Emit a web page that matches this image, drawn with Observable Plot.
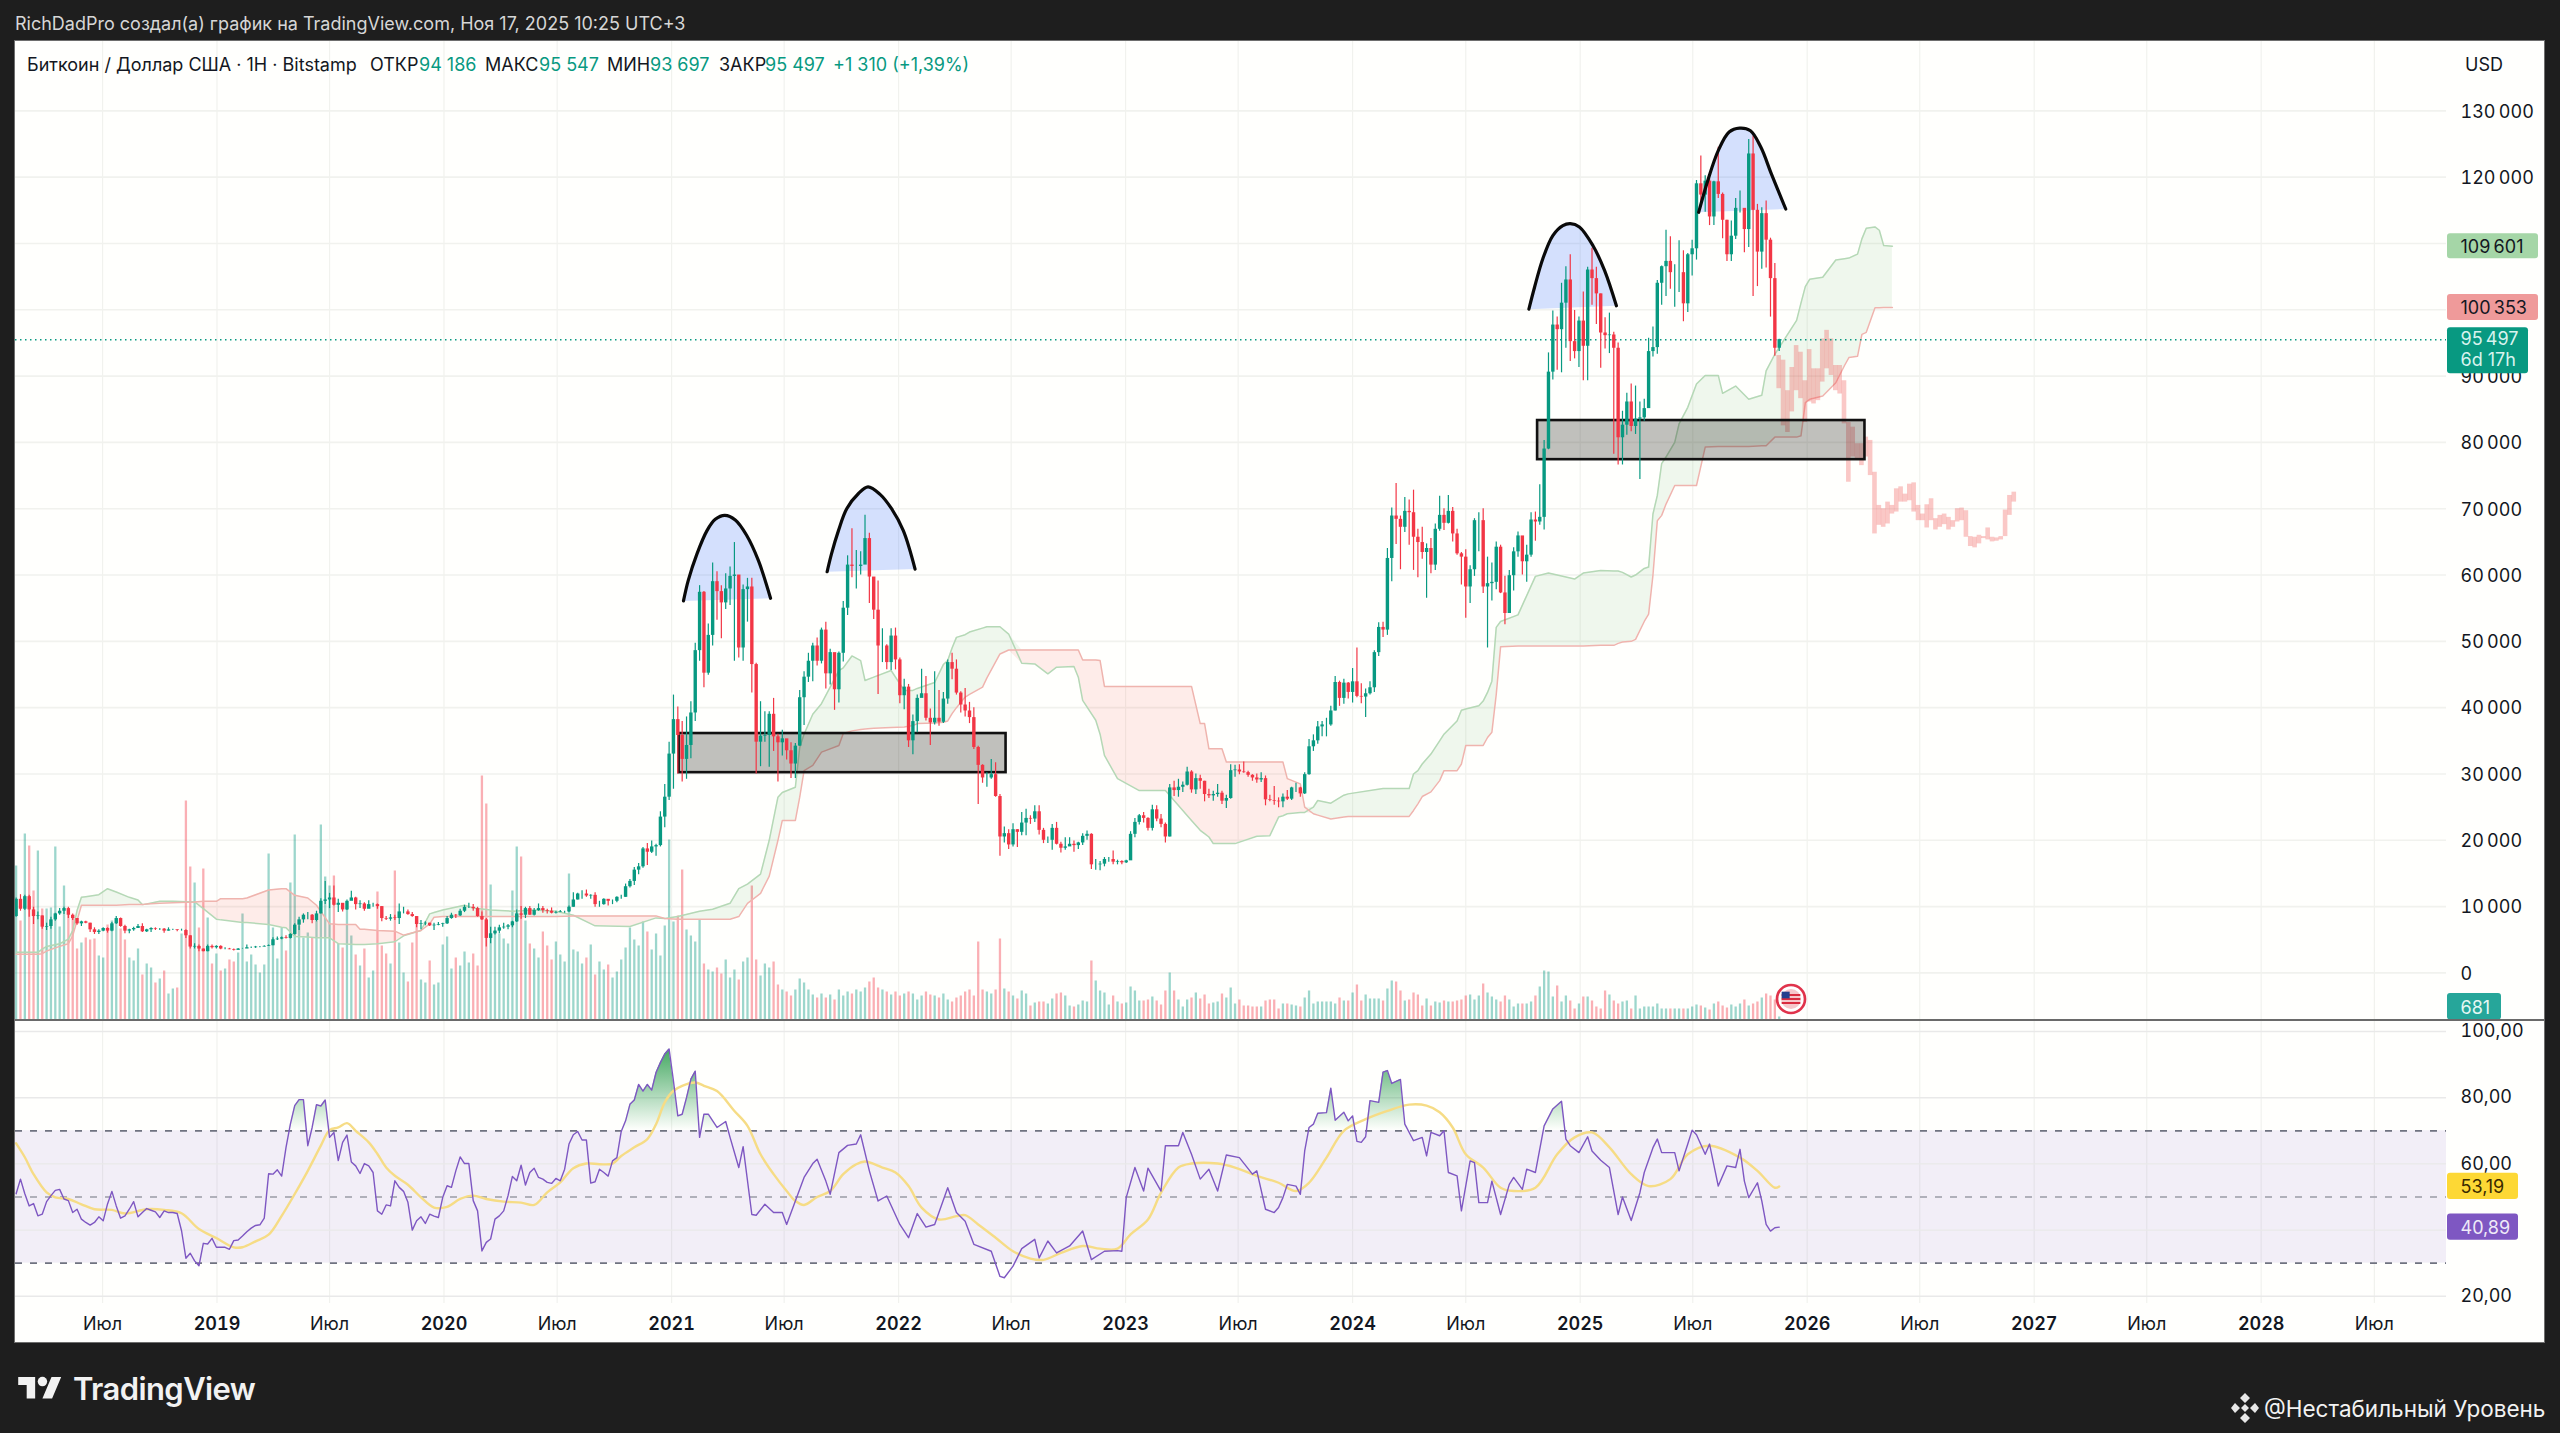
<!DOCTYPE html>
<html lang="ru"><head><meta charset="utf-8"><title>BTC/USD</title>
<script src="https://cdn.jsdelivr.net/npm/d3@7"></script>
<script src="https://cdn.jsdelivr.net/npm/@observablehq/plot@0.6"></script>
<style>
html,body{margin:0;padding:0;background:#1e1e1e;width:2560px;height:1433px;overflow:hidden;font-family:Inter,"Noto Sans",sans-serif}
#panel{position:absolute;left:15px;top:41px;width:2529px;height:1301px;background:#fffffd;box-shadow:0 0 0 1px #6e6e6e}
#panel svg{display:block}
#sep{position:absolute;left:0;top:978px;width:2529px;height:2px;background:#6a6a6a}
.t{position:absolute;white-space:nowrap;line-height:24px;font-size:18px}
.lg{top:12px;color:#131722}.v{top:12px;color:#089981}
</style></head><body>
<div class="t" style="left:15px;top:12px;color:#d6d6d6">RichDadPro создал(а) график на TradingView.com, Ноя 17, 2025 10:25 UTC+3</div>
<div id="panel"><div id="main"></div><div id="rsi"></div><div id="sep"></div>
<span class="t lg" style="left:12px">Биткоин / Доллар США · 1Н · Bitstamp</span>
<span class="t lg" style="left:355px">ОТКР</span><span class="t v" style="left:404px">94 186</span>
<span class="t lg" style="left:470px">МАКС</span><span class="t v" style="left:524px">95 547</span>
<span class="t lg" style="left:592px">МИН</span><span class="t v" style="left:635px">93 697</span>
<span class="t lg" style="left:704px">ЗАКР</span><span class="t v" style="left:750px">95 497</span>
<span class="t v" style="left:818px">+1 310 (+1,39%)</span>
<span class="t lg" style="left:2450px">USD</span>
<svg style="position:absolute;left:1760px;top:942px" width="32" height="32" viewBox="0 0 24 24"><circle cx="12" cy="12" r="10.5" fill="#fff" stroke="#e0334b" stroke-width="2"/><circle cx="12" cy="12" r="7.5" fill="#f6c6cb"/><path d="M5 9h14M5 12h14M5 15h14" stroke="#d92b3f" stroke-width="1.5"/><rect x="5" y="6.5" width="6" height="5" fill="#24408e"/></svg>
</div>
<svg style="position:absolute;left:18px;top:1376px" width="44" height="23" viewBox="0 0 36 19"><path fill="#f2f2f2" d="M14 18.5H7V7.5H0V.8h14zM28 18.5h-8L27.5.8h8z"/><circle cx="20" cy="4.6" r="3.9" fill="#f2f2f2"/></svg>
<div class="t" style="left:73px;top:1371px;font-size:31px;line-height:36px;font-weight:600;color:#f2f2f2;letter-spacing:-.6px">TradingView</div>
<svg style="position:absolute;left:2231px;top:1391px" width="28" height="34" viewBox="0 0 28 30"><g fill="#e8e8e8"><path d="M14 0l5 5-5 5-5-5zM14 20l5 5-5 5-5-5zM4 10l5 5-5 5-4-5zM24 10l4 5-4 5-5-5zM14 11l4 4-4 4-4-4z"/></g></svg>
<div class="t" style="left:2264px;top:1394px;font-size:22.5px;line-height:30px;color:#f2f2f2">@Нестабильный Уровень</div>
<script>
// ---- weekly candles, thousand USD, first bar = week of 2018-02-12 ----
const closeK=[
11.1,9.6,11.5,9.5,8.5,8.6,6.9,7.0,8.0,8.9,9.3,9.7,8.7,8.2,7.4,7.7,7.5,6.5,6.1,6.3,6.7,6.3,7.4,8.2,7.0,6.3,6.5,6.7,7.0,6.2,6.5,6.7,6.6,6.6,6.3,6.5,6.5,6.4,6.4,5.6,3.9,4.0,3.6,3.2,4.0,3.8,
4.0,3.6,3.6,3.5,3.4,3.6,3.6,3.8,3.8,3.9,3.9,4.0,4.1,5.0,5.1,5.3,5.2,5.8,7.2,8.0,8.7,8.7,7.9,8.9,10.8,11.0,11.3,10.2,10.5,9.5,10.8,11.3,10.3,10.4,9.6,10.3,10.3,10.0,8.2,8.1,8.3,8.2,9.2,9.2,8.8,8.5,7.3,7.4,7.5,7.1,7.2,7.3,
7.4,8.2,8.7,8.6,9.3,9.9,9.9,9.7,8.5,8.0,5.2,5.9,6.3,6.8,6.9,7.1,7.7,8.9,8.7,9.7,8.7,9.4,9.7,9.4,9.3,9.0,9.1,9.2,9.2,9.9,11.0,11.9,11.9,11.6,11.7,10.3,10.3,11.1,10.8,10.8,11.4,11.4,13.0,13.8,15.5,16.0,18.7,18.2,19.0,19.2,23.5,26.5,
33.0,38.2,35.8,32.2,34.3,39.2,48.6,57.4,45.2,50.9,59.0,57.5,55.8,57.9,59.8,60.0,49.0,57.8,58.2,46.5,34.8,35.7,35.8,39.0,35.6,34.7,35.3,33.5,31.5,34.2,41.5,44.6,47.0,49.3,47.0,51.7,45.1,48.3,42.7,48.2,55.0,61.5,61.3,61.3,61.5,65.5,59.7,54.7,49.3,49.3,46.8,50.8,47.2,
41.8,43.1,35.0,37.9,41.4,42.1,38.4,37.7,38.4,37.8,41.3,46.8,45.8,42.2,40.4,39.5,38.5,34.0,31.3,29.4,29.4,29.9,26.6,20.5,21.0,19.3,21.6,21.2,22.6,23.3,23.2,24.3,21.5,20.0,20.0,21.8,19.4,18.8,19.0,19.4,19.2,19.6,20.6,20.9,16.3,16.3,16.4,17.1,17.1,16.7,16.8,16.6,
16.9,20.9,22.7,23.7,23.3,21.8,24.6,23.2,22.4,20.5,27.9,27.5,28.0,28.3,30.3,27.6,29.3,28.9,26.9,26.7,26.9,27.1,25.9,26.3,30.5,30.6,30.3,30.2,29.8,29.4,29.1,29.3,26.1,26.0,25.9,25.8,26.5,26.2,27.9,27.9,27.0,29.9,34.1,35.0,37.1,37.4,37.4,39.5,43.8,41.4,43.7,42.3,
43.9,41.7,41.6,42.1,43.0,48.3,52.1,51.7,62.5,68.9,68.4,67.2,69.6,69.4,65.7,64.9,63.4,64.0,61.5,66.9,69.0,67.8,69.6,66.2,63.2,62.7,58.2,60.8,68.2,68.2,58.2,58.7,58.9,64.2,57.3,54.2,59.9,63.5,65.9,62.0,63.0,68.3,68.0,68.7,79.0,90.6,97.7,97.0,101.0,104.5,95.2,93.7,98.3,
94.5,106.0,104.7,102.4,96.5,96.1,96.2,94.2,80.7,82.6,86.1,82.4,83.5,83.7,85.1,93.7,94.3,104.0,106.5,107.3,105.6,105.6,105.6,100.9,108.3,109.2,119.0,117.3,119.4,114.0,119.3,117.4,113.5,108.3,111.1,115.3,115.3,112.1,123.5,115.0,108.7,114.5,110.5,104.7,94.2,95.5];
const highK=[
11.3,11.8,11.7,11.7,9.9,9.2,8.6,7.5,8.4,9.0,9.7,9.9,9.9,8.9,8.2,7.8,7.8,7.5,6.8,6.5,6.8,6.8,7.6,8.5,8.3,7.2,6.6,6.9,7.3,7.4,6.6,6.8,6.8,6.7,6.7,6.8,6.6,6.5,6.6,6.5,5.6,4.4,4.2,3.6,4.2,4.2,
4.1,4.1,3.8,3.7,3.6,3.7,3.7,4.2,3.9,4.0,4.0,4.1,4.2,5.3,5.4,5.4,5.6,5.9,7.4,8.4,8.9,9.1,8.8,9.3,11.2,13.8,12.0,13.1,11.1,10.4,11.0,12.3,11.4,10.9,10.6,10.9,10.5,10.4,10.0,8.5,8.8,8.7,10.4,9.9,9.5,9.1,8.5,7.9,7.7,7.5,7.5,7.6,
7.5,8.5,9.0,8.8,9.6,10.2,10.5,10.3,9.9,9.2,8.2,6.9,6.9,7.2,7.5,7.3,7.8,9.5,10.0,9.9,10.0,9.7,10.4,10.0,9.6,9.8,9.3,9.4,9.3,10.1,12.1,12.0,12.4,12.5,11.8,12.1,10.8,11.2,11.0,11.0,11.5,11.7,13.4,14.1,15.9,16.5,18.9,19.5,19.9,19.4,24.3,28.4,
34.8,41.9,40.1,37.9,38.6,40.9,49.7,58.4,57.5,52.6,61.8,60.5,58.4,60.2,61.2,64.9,57.0,58.5,59.5,59.5,46.7,40.9,39.4,39.4,41.4,36.0,36.6,35.1,34.7,34.6,42.6,45.4,48.2,49.7,50.5,52.0,52.9,48.8,47.0,48.4,56.0,62.9,67.0,63.7,63.5,69.0,66.3,59.5,59.1,51.9,49.5,51.9,52.0,
47.5,44.3,43.5,38.9,41.9,45.8,44.7,39.8,45.4,42.6,42.3,47.2,48.2,47.2,42.4,42.9,40.8,40.0,34.2,31.4,30.2,32.2,31.7,26.9,22.0,21.6,22.5,21.6,24.2,24.7,23.7,25.2,25.2,21.8,20.5,22.4,22.7,19.7,20.4,20.4,19.9,19.7,21.0,21.4,21.0,17.1,16.8,17.4,17.4,18.4,17.0,16.9,
17.0,21.3,23.3,23.9,24.2,23.4,25.3,25.2,23.9,22.6,28.4,28.9,29.2,28.8,31.0,30.5,30.0,29.8,28.9,27.7,27.4,28.4,27.4,26.8,31.4,31.3,31.4,31.8,30.4,29.9,30.0,30.2,29.7,26.8,28.1,26.4,27.0,27.5,28.0,28.6,28.0,30.2,35.2,35.9,37.9,37.9,38.4,40.2,44.7,44.0,44.3,43.8,
45.9,49.0,43.6,42.8,43.9,48.6,52.8,52.9,64.0,70.1,73.8,68.9,71.7,71.3,72.8,66.9,67.2,64.7,65.5,67.7,71.9,70.0,72.0,70.2,66.9,63.4,63.8,61.4,68.5,69.4,70.0,62.7,61.8,65.0,64.5,59.8,60.7,64.1,66.5,65.6,64.5,69.4,69.5,73.6,80.3,93.5,99.8,98.9,104.0,106.5,108.3,99.9,98.9,
102.7,106.4,109.3,106.4,102.4,98.8,99.5,96.6,95.0,84.7,87.4,88.8,88.5,86.1,86.5,95.7,97.4,104.4,106.6,112.0,111.0,106.8,110.4,108.9,108.5,110.5,119.5,123.2,120.2,119.8,119.4,124.5,117.6,113.5,113.4,116.8,117.9,113.5,125.7,126.2,115.9,115.4,116.4,110.8,107.0,95.55];
const lowK=[
8.4,9.3,9.4,8.4,7.3,8.0,6.6,6.4,6.6,7.8,8.7,8.8,8.2,7.9,7.2,7.0,7.4,6.1,5.8,5.8,6.2,6.0,6.2,7.3,6.9,5.9,5.9,6.3,6.7,6.1,6.1,6.1,6.4,6.4,6.0,6.3,6.4,6.2,6.3,5.2,3.6,3.6,3.2,3.2,3.2,3.6,
3.6,3.5,3.5,3.5,3.3,3.4,3.6,3.7,3.7,3.7,3.8,3.9,4.0,4.1,4.9,5.0,5.1,5.1,5.7,6.4,7.5,8.0,7.4,7.7,8.9,10.3,9.7,10.1,9.1,9.2,9.4,11.0,9.5,9.7,9.3,9.8,9.9,9.6,7.7,7.9,7.8,7.9,7.3,8.9,8.7,8.4,6.8,6.5,7.1,7.0,6.4,7.1,
6.9,7.3,8.1,8.2,8.5,9.1,9.7,9.3,8.4,7.9,3.9,4.4,5.7,5.9,6.6,6.5,6.8,7.6,8.1,8.2,8.7,8.6,9.3,9.0,8.9,8.9,8.9,9.1,9.0,9.1,9.9,11.0,11.1,11.4,11.1,9.9,9.9,10.2,10.1,10.3,10.6,11.1,11.4,12.8,13.2,14.8,15.8,16.2,18.0,17.6,19.0,21.9,
26.0,27.7,30.0,28.8,29.2,32.3,37.9,47.0,43.0,44.9,49.3,53.2,50.4,54.8,55.4,47.0,47.5,47.0,52.9,42.2,30.0,31.1,34.8,31.0,33.4,28.8,32.7,32.1,29.3,29.3,34.2,37.3,43.8,43.9,46.3,46.6,42.8,43.4,39.6,40.7,46.9,53.9,59.6,57.9,60.0,62.3,55.7,53.3,42.0,46.8,45.7,45.6,45.7,
40.6,39.7,34.0,32.9,36.2,41.7,38.0,34.3,37.4,37.2,37.6,40.5,44.2,41.9,39.2,38.6,37.6,33.7,25.4,28.6,28.0,29.2,26.5,17.6,19.6,18.6,19.0,18.9,20.7,20.7,22.4,22.7,20.8,19.5,19.5,18.5,19.3,18.1,18.5,19.1,18.2,18.6,19.2,20.0,15.6,15.5,15.4,16.0,16.7,16.3,16.3,16.3,
16.5,17.1,20.4,22.3,22.6,21.4,21.4,22.8,21.9,19.6,20.5,26.6,26.5,27.2,28.2,27.1,26.9,27.7,25.8,26.3,25.9,26.5,25.4,24.8,26.2,29.5,29.9,30.1,29.5,28.9,28.6,28.7,25.2,25.8,25.3,24.9,24.9,26.0,26.0,27.2,26.5,26.9,29.8,33.4,34.5,35.6,35.6,37.2,39.5,40.2,40.5,41.3,
40.7,41.5,40.6,38.5,41.9,42.3,47.7,50.6,50.9,59.0,64.6,60.8,66.4,64.5,60.7,59.6,62.4,56.5,60.2,60.7,66.6,66.7,67.7,65.0,63.0,58.5,53.5,55.7,59.8,63.5,57.2,49.0,56.1,57.8,57.2,52.5,54.6,57.6,62.7,60.0,58.9,62.7,65.1,67.5,66.8,78.9,89.4,90.9,90.5,94.2,92.2,92.6,91.3,
89.3,89.3,100.7,97.8,91.2,94.1,93.4,78.2,76.6,76.6,81.1,81.6,81.2,74.4,83.2,85.1,92.9,93.3,100.7,102.0,103.1,100.4,102.6,98.2,99.6,105.1,107.5,115.7,114.7,112.7,112.7,116.8,110.7,107.3,107.3,110.6,114.6,108.6,109.4,102.0,103.5,106.1,106.3,98.9,93.0,93.7];
// volume, same weeks
const volume=[
154,99,186,174,129,169,111,111,112,173,93,134,110,102,71,77,82,80,81,64,62,95,99,96,91,80,62,59,71,45,56,52,37,41,49,26,31,32,86,219,
153,137,92,151,102,56,66,49,51,60,58,67,106,58,65,55,47,55,166,92,61,92,69,137,185,94,82,87,82,99,195,143,134,144,76,72,112,84,65,54,
71,42,49,128,74,66,56,149,77,47,38,77,96,40,37,59,35,37,75,83,51,62,54,68,57,66,54,244,216,135,89,86,81,76,129,173,163,99,76,
71,62,88,74,60,78,65,58,146,70,68,56,62,75,45,58,50,55,42,48,60,72,92,80,74,98,88,70,86,64,94,180,98,104,150,90,84,78,100,56,50,48,52,46,60,42,50,40,58,62,134,60,44,56,52,58,
35,30,28,24,30,41,37,30,25,22,26,22,25,20,30,24,28,26,30,28,32,38,42,32,30,28,25,28,24,26,28,26,20,24,28,25,24,22,26,20,18,22,24,28,30,24,78,30,28,26,30,81,
31,28,24,21,29,26,14,17,18,18,16,21,26,27,24,14,13,15,19,18,59,39,29,27,15,24,18,16,17,33,29,19,19,20,23,19,15,29,47,
29,20,13,20,22,27,21,25,16,17,18,26,22,32,16,20,14,14,13,13,13,19,20,20,11,16,16,15,14,13,22,29,16,18,18,18,18,16,22,19,19,27,35,19,25,21,21,21,19,31,39,38,29,19,20,27,25,14,21,14,18,17,19,18,18,19,20,24,25,20,24,36,27,23,20,18,24,20,13,16,16,16,18,24,33,49,48,23,34,18,24,19,11,16,23,23,19,13,11,29,
25,19,16,18,19,11,24,11,13,13,13,16,11,11,11,11,11,11,
11,13,15,14,12,10,16,18,14,12,15,13,16,20,14,16,18,22,26,24,20,3];
// RSI: week number and value
const rsiWeek=[0,1,2,3,4,5,6,7,8,9,10,11,12,13,14,15,16,17,18,19,20,21,22,23,24,25,26,27,28,29,30,31,32,33,34,35,36,37,38,39,40,41,42,43,44,45,46,47,48,49,50,51,52,53,54,55,56,57,58,59,60,61,62,63,64,65,66,67,68,69,70,71,72,73,74,75,76,77,78,79,80,81,82,83,84,85,86,87,88,89,90,91,92,93,94,95,96,97,98,99,100,101,102,103,104,105,106,107,108,109,110,111,112,113,114,115,116,117,118,119,120,121,122,123,124,125,126,127,128,129,130,131,132,133,134,135,136,137,138,139,140,141,142,143,144,145,146,147,148,149,150,151,152,153,154,155,156,157,158,159,161,163,164,166,167,169,170,172,174,176,177,179,181,183,184,186,187,189,191,193,194,196,198,200,203,205,207,209,211,214,216,218,220,224,226,227,229,231,234,235,237,239,242,245,247,250,253,254,255,257,259,260,263,264,267,268,270,272,274,276,278,281,284,285,287,289,290,291,292,294,295,296,297,298,299,301,302,303,305,306,307,308,309,310,311,313,314,315,316,318,319,321,323,324,325,327,328,329,331,332,334,335,336,338,339,341,343,344,346,347,349,351,353,355,356,357,359,361,362,364,366,368,369,371,373,374,376,377,378,381,382,384,385,386,388,389,391,393,395,396,397,398,400,401,402,403,404,405];
const rsiValue=[51,55.4,51,47.3,48,44.3,44.8,48.6,50.4,52,52.3,49.4,48.9,45.3,46.3,43.3,42.3,41.5,42.3,44,42.8,47.9,51.7,47.3,43.6,44.3,46.3,48.6,44,45.3,46.5,46,45.5,43.8,45.8,45.3,45.3,45,39.8,31.5,33,30.7,29.2,36,35.8,37.5,34.8,34.8,34.8,34.2,36.8,37,38.2,39.5,40.6,41.4,41.6,43.6,57,56.9,58.2,56.3,65,72,77.6,79.4,79.4,65.5,71,77.9,77.5,79.3,68,69.5,61,66.5,68.7,60.6,59.4,57.1,60.1,59.4,57.4,45.8,44.8,47.6,47.3,54.9,52.9,51.7,48.4,40,42.8,44,42,44.8,44.2,43.8,49.9,53.4,52.9,57.9,62.1,60.1,60.1,48.9,45.8,33.7,36.3,37.3,43.3,44.3,45.8,50.4,56.2,54.9,59.6,53.6,57.4,58.7,55.9,55.4,54.4,54.1,55.6,54.9,58.4,66,68.8,69.8,67.2,67.2,54.2,54.6,58.4,57.4,56.3,60.9,61.9,69.8,73,78,79.3,84,82,84,82.3,87.6,90.6,93.2,94.7,85,74.5,75,80,85.6,88,68,75,75,71,72.8,68,58.9,65.2,44.7,44.5,47.8,45.3,45.3,41.7,48.8,55.9,60.1,61.4,54.8,50.8,63.4,65.6,66,68.8,57.9,48.8,50.3,41.7,37.7,45,40.9,41.7,52.8,45.3,42.7,35.7,33.6,26,25.6,29.1,34.4,37.2,31.6,36.7,33.1,35.2,39.7,31.1,33.6,33.8,33.6,49.8,58.9,51.8,58.7,51.8,65.5,65.5,69.5,62.9,55.4,58.4,51.8,62.7,61.9,56.9,57.9,46.3,45.3,46.8,49.8,53.8,53.3,50.8,63.9,71,72,75.3,75.5,82.9,73.2,75.6,73,74.5,66.8,66.5,68.2,79.1,78.6,87.7,88.2,84.3,85.5,72,67,68,62.4,69.5,68.5,70,57.4,56.4,45.8,60.9,60.4,48.3,48.3,54.8,44.7,53.8,55.9,52.3,58.4,57.4,71.5,76.6,78.9,67.5,65.5,63.4,68.2,63.9,61.1,58.9,44.7,50,42.9,51.3,57.4,64.9,67.5,63.4,63.4,57.9,66,70.2,68.8,62.9,66,53.3,59.4,58.9,64.4,54.8,49.8,54.3,48.8,41.7,39.7,40.7,40.89];
// RSI moving average readings
const smaWeek=[0,2,4,7,9,12,15,18,22,25,30,34,38,42,46,50,52,55,58,61,64,67,70,72,74,76,78,81,83,85,87,90,93,96,99,102,105,108,112,116,119,122,125,128,131,134,137,139,142,145,147,149,151,153,156,158,161,165,168,171,174,177,179,181,184,187,190,193,195,199,202,205,208,212,216,218,221,225,229,233,236,240,245,249,253,256,260,263,267,270,276,280,285,290,294,297,301,305,310,315,320,324,327,330,333,337,341,344,349,354,358,362,366,371,375,380,384,389,396,400,404,405];
const smaValue=[66.2,62,56.9,51.4,49.9,49.4,47.8,46.3,46.1,45,46.3,46.1,45.1,40.3,37.6,34.8,34.8,36.6,38.6,44.3,50.9,57.9,65.5,70.2,71,72.3,70,66.5,63,58.9,56.4,53.7,49.9,46.8,47,49.4,50.4,49.4,48.6,48.3,47.6,51.4,54.4,58.7,60.1,59.9,60.1,62.4,65,67.5,72,78.6,82.1,83.6,84.6,83.6,82,76,71.5,62.9,56.9,51.8,48.8,47.6,50,51.8,56.9,59.9,60.7,58.9,57.4,53.3,46.8,43.2,44.2,44.5,41.7,37.7,33.6,31.4,31,33.1,35.2,34.4,34.4,38.7,43.2,51.3,58.9,60.1,60.1,58.9,56.4,54.3,51.8,54.3,61.9,70,73.5,76,77.9,77.6,75.6,71,62.9,58.9,52.8,51.8,52.8,62.9,68,69.5,65,56.9,53.3,55.4,62.9,65.5,61.9,57.9,52.8,53.19];
// Ichimoku cloud, thousand USD
const cloudWeek=[0,5,6,7,10,12,13,14,15,16,19,21,23,26,28,29,30,33,36,41,43,46,47,52,53,58,61,62,64,67,69,72,74,78,79,80,83,87,89,93,95,96,98,103,105,109,114,119,124,128,133,141,147,149,152,157,160,164,166,168,171,173,175,176,179,180,181,183,185,189,190,192,194,195,197,201,204,206,207,211,213,214,215,216,218,219,222,223,226,228,231,234,237,239,243,244,245,248,249,250,253,258,264,270,272,273,274,275,277,278,280,285,288,290,291,292,295,296,298,299,302,305,306,314,320,321,322,323,325,327,328,331,332,333,336,337,338,339,340,341,345,349,352,358,360,364,367,368,369,371,372,374,375,376,377,378,379,381,382,384,386,388,391,392,395,398,401,402,404,409,410,411,412,415,418,420,421,423,424,425,427,428,429,431];
const spanA=[3.1,3.1,3.6,4.0,4.4,5.1,6.4,9.4,11.4,11.5,11.8,12.7,12.2,11.4,11.0,10.3,10.4,10.8,10.8,10.7,9.7,8.1,8.0,7.6,7.6,7.3,6.9,6.8,5.5,5.4,5.3,5.3,4.4,4.3,4.3,4.3,4.4,4.7,5.6,6.4,8.9,9.1,9.5,10.2,9.8,9.5,9.3,9.5,9.3,8.7,7.1,7.0,8.3,8.2,8.5,9.3,9.6,10.5,12.7,13.4,14.9,20,26.5,27.2,28,34,36,39,40.6,45.6,46,47.8,47.1,44.1,44.6,45.6,42.6,42.6,42.9,43.8,46.5,47.1,49,50.6,51,51.4,52,52.2,52.2,51.1,46.7,46.6,45.1,46.1,46.2,44.6,41.1,38.1,36,32.8,29.3,27.5,27.5,23,21.5,21,20.5,19.5,19.5,19.5,19.5,20.6,20.7,23.5,23.7,24,24.2,24.2,25,26,25.6,26.8,27,27.8,27.8,30,30.5,31.5,33,35,36,38,39.6,39.8,40.3,41,42.3,44,52.1,53,54,59.8,60.3,59.4,60.3,60.7,60.6,60.6,60.4,59.7,60,61,61.2,69.2,72,76.8,77.8,80,82.8,85.3,88.8,90.1,90.1,87.4,88.5,86.5,87.1,90.8,93.3,98.4,101,103.5,104.6,104.9,107.5,107.7,107.8,108.4,110.7,112.3,112.5,112,109.7,109.6];
const spanB=[2.8,2.8,2.9,3.3,4.0,4.4,5.6,7.9,10.2,10.2,10.2,10.2,10.2,10.3,10.3,10.3,10.4,10.5,10.6,10.7,10.8,10.8,11.2,11.2,11.3,12.5,12.7,12.7,11.7,11.3,10.2,7.4,7.3,7.3,6.6,6.6,6.4,6.3,5.7,6.4,7.4,8.4,8.5,8.5,8.5,8.5,8.5,8.5,8.5,8.6,8.6,8.6,8.6,8.2,8.1,8.1,8.1,8.1,8.5,10.5,12,14.6,20,23,23,26.5,30.5,31.3,33.3,34.3,36.1,36.5,36.7,36.8,36.9,37,37.1,37.3,37.6,37.7,37.8,38,39.1,40,41.6,42,43.1,44.5,48.1,48.7,48.7,48.7,48.7,48.7,48.7,48.7,47.2,47.2,47.1,43.2,43.2,43.2,43.2,43.2,37.6,37.6,33.8,33.8,33.8,31.8,31.8,31.8,31.8,31.8,31.8,29.3,28.5,25,24,23.8,23.2,23.5,23.6,23.6,23.6,24.5,25.5,26.6,27.3,29,30.5,30.5,31.5,34.3,34.3,34.3,35.5,36.3,42,49.2,49.3,49.3,49.3,49.3,49.3,49.4,49.4,49.7,49.9,50,50.3,53,54.1,60,68.2,69,70.7,73.5,73.5,73.5,73.5,79.3,79.4,79.4,79.4,79.4,79.5,79.5,80.8,80.8,81,86,86.5,87,89,91.6,92.8,93,96.3,96.6,100.3,100.3,100.35,100.35];
// projected faded bars after the last candle
const ghostHighK=[93.1,92.4,87.8,91.3,94.6,93.6,89.3,94,91.1,91.1,95.6,96.9,95.6,91.6,91.6,89.3,83,82.3,79.8,79.8,80.8,80.3,75.5,70.5,70,71,70.5,73,73.3,72.2,73.7,73.9,70.5,69.2,70.6,71.5,68.5,69,69.2,68.7,68.2,70,70.1,69.7,65.8,65.7,66,65.8,67.1,65.7,65.6,65.8,69.8,72,72.5];
const ghostLowK=[88.1,82.5,81.5,84.6,87.8,86.6,83,86.1,85.8,86.3,89.1,91.1,90.1,87.8,87.3,82.8,74,77.8,77.5,76.5,77.8,75,66.2,67.5,67.2,67.7,69.2,69.5,71,71,71.2,69.5,68.2,68.2,67.1,68.2,66.8,67.2,67.6,66.8,67.2,68,68.2,65.7,64.3,64.1,64.7,65.5,65.3,65,65.1,65.3,65.8,69,71];
// hand-drawn annotations: week number / thousand USD
const hump1Week=[153.3,154.4,156.4,158.7,160.6,162.8,165.2,167.8,170.5,173.3], hump1K=[56.1,59.2,63.2,66.7,68.4,69,68.3,66,62.2,56.5];
const hump2Week=[186.3,187.3,188.9,190.8,193.5,195.7,198.4,201.1,203.8,206.5], hump2K=[60.5,63.2,66.7,70,72.3,73.3,72.2,70,66.7,60.9];
const hump3Week=[347.5,348.8,350.7,353,355.3,357,359.1,362.2,364.9,367.6], hump3K=[100.1,103.4,107.7,111.2,112.7,113,112.5,109.7,105.9,100.6];
const hump4Week=[386.5,388.6,391,393.5,395.9,398.4,400.8,403.2,406.5], hump4K=[114.7,119.5,124,126.8,127.4,127,124.5,120.5,115.2];
const zoneWeeks=[[152.3,227.4],[349.5,424.7]], zoneK=[[30.2,36.1],[77.4,83.3]];
const priceTicks=d3.range(0,130001,10000), rsiTicks=[20,40,60,80,100];
// 100 000 and 110 000 sit fully behind the value tags in the reference
const priceLabels=priceTicks.filter(v=>v!==100000&&v!==110000);
const yearLabels=[2019,2020,2021,2022,2023,2024,2025,2026,2027,2028];
const julyLabels=[2018,2019,2020,2021,2022,2023,2024,2025,2026,2027,2028];

// ---- checks ----
if(closeK.length!==406||highK.length!==406||lowK.length!==406||volume.length!==406) throw new Error("len "+[closeK.length,highK.length,lowK.length,volume.length]);
if(rsiWeek.length!==rsiValue.length||smaWeek.length!==smaValue.length||cloudWeek.length!==spanA.length||cloudWeek.length!==spanB.length||ghostHighK.length!==ghostLowK.length) throw new Error("len2 "+[rsiWeek.length,rsiValue.length,smaWeek.length,smaValue.length,cloudWeek.length,spanA.length,spanB.length,ghostHighK.length,ghostLowK.length]);

// ---- build tables ----
const DAY=864e5, W0=Date.UTC(2018,1,12);
const wk=i=>new Date(W0+i*7*DAY);
const xDomain=[new Date(Date.UTC(2018,1,11)),new Date(Date.UTC(2028,9,25))];
const perDay=2431/((xDomain[1]-xDomain[0])/DAY);
const gutter=px=>new Date(+xDomain[1]+px/perDay*DAY);
const candles=closeK.map((c,i)=>({date:wk(i),open:(i?closeK[i-1]:8.5)*1e3,close:c*1e3,high:highK[i]*1e3,low:lowK[i]*1e3,vol:volume[i]}));
const up=candles.filter(d=>d.close>=d.open), down=candles.filter(d=>d.close<d.open);
const TEAL="#089981",RED="#f23645";
const USD_PER_PX=150.8, Y0=-7100;
const cloud=cloudWeek.map((w,i)=>({date:wk(w),a:spanA[i]*1e3,b:spanB[i]*1e3}));
const ghost=ghostHighK.map((h,i)=>({x1:new Date(+wk(405+i)-3.7*DAY),x2:new Date(+wk(405+i)+3.7*DAY),y1:ghostLowK[i]*1e3,y2:h*1e3}));
const humps=[[hump1Week,hump1K],[hump2Week,hump2K],[hump3Week,hump3K],[hump4Week,hump4K]].map(([w,k])=>w.map((v,i)=>({date:wk(v),v:k[i]*1e3})));
const zones=zoneWeeks.map((w,i)=>({x1:wk(w[0]),x2:wk(w[1]),y1:zoneK[i][0]*1e3,y2:zoneK[i][1]*1e3}));
const halfYears=[...yearLabels.map(y=>new Date(Date.UTC(y,0,1))),...julyLabels.map(y=>new Date(Date.UTC(y,6,1)))];
const fmt=v=>String(v).replace(/\B(?=(\d{3})+$)/g,"\u2009");
const GRID="#f1f2ee";
const baseStyle={fontFamily:"Inter, sans-serif",fontSize:"18px",color:"#131722",background:"transparent",overflow:"hidden"};
const tag=(value,top,bottom,w,bg,fg,label)=>[
  Plot.rect([0],{x1:gutter(1),x2:gutter(w),y1:bottom,y2:top,fill:bg,r:3}),
  Plot.text([label],{x:gutter(14),y:value,text:d=>d,fill:fg,textAnchor:"start",dy:1})];
const U=USD_PER_PX;

const main=Plot.plot({
  width:2529,height:979,marginLeft:0,marginRight:98,marginTop:0,marginBottom:0,style:baseStyle,
  x:{type:"utc",domain:xDomain,axis:null},
  y:{domain:[Y0,140460],range:[978.5,0],axis:null},
  marks:[
    Plot.ruleX(halfYears,{stroke:GRID,strokeWidth:1.2}),
    Plot.ruleY(priceTicks,{stroke:GRID,strokeWidth:1.6}),
    Plot.ruleX(up,{x:"date",y1:Y0,y2:d=>Y0+d.vol*U,stroke:TEAL,strokeOpacity:.4,strokeWidth:2.3}),
    Plot.ruleX(down,{x:"date",y1:Y0,y2:d=>Y0+d.vol*U,stroke:RED,strokeOpacity:.4,strokeWidth:2.3}),
    Plot.areaY(cloud,{x:"date",y1:"b",y2:d=>Math.max(d.a,d.b),fill:"#43a047",fillOpacity:.085}),
    Plot.areaY(cloud,{x:"date",y1:"b",y2:d=>Math.min(d.a,d.b),fill:"#f44336",fillOpacity:.1}),
    Plot.line(cloud,{x:"date",y:"a",stroke:"#b5d8b6",strokeWidth:1.5}),
    Plot.line(cloud,{x:"date",y:"b",stroke:"#efb4ae",strokeWidth:1.5}),
    Plot.rect(ghost,{x1:"x1",x2:"x2",y1:"y1",y2:"y2",fill:"#f04a4a",fillOpacity:.3}),
    Plot.ruleY([95497],{stroke:TEAL,strokeWidth:1.5,strokeDasharray:"1.5 3.5"}),
    Plot.rect(zones,{x1:"x1",x2:"x2",y1:"y1",y2:"y2",fill:"#1c1c14",fillOpacity:.28,stroke:"#111",strokeWidth:2.6}),
    ...humps.map(h=>Plot.line(h,{x:"date",y:"v",curve:"catmull-rom",stroke:"none",fill:"#2962ff",fillOpacity:.2})),
    Plot.ruleX(up,{x:"date",y1:"low",y2:"high",stroke:TEAL,strokeWidth:1.2}),
    Plot.ruleX(down,{x:"date",y1:"low",y2:"high",stroke:RED,strokeWidth:1.2}),
    Plot.ruleX(up,{x:"date",y1:"open",y2:"close",stroke:TEAL,strokeWidth:3.4}),
    Plot.ruleX(down,{x:"date",y1:"open",y2:"close",stroke:RED,strokeWidth:3.4}),
    ...humps.map(h=>Plot.line(h,{x:"date",y:"v",curve:"catmull-rom",stroke:"#0a0a0a",strokeWidth:3.2})),
    Plot.axisY(priceLabels,{anchor:"right",tickSize:0,tickPadding:14,tickFormat:fmt,label:null,dy:1}),
    ...tag(109601,109601+12.5*U,109601-12.5*U,92,"#a5d6a7","#131722",fmt(109601)),
    ...tag(100353,100353+13*U,100353-13*U,92,"#ef9a9a","#131722",fmt(100353)),
    Plot.rect([0],{x1:gutter(1),x2:gutter(82),y1:95497-34*U,y2:95497+12*U,fill:TEAL,r:3}),
    Plot.text([fmt(95497)],{x:gutter(14),y:95497,text:d=>d,fill:"#d8f3ee",textAnchor:"start"}),
    Plot.text(["6d 17h"],{x:gutter(14),y:95497-21*U,text:d=>d,fill:"#d8f3ee",textAnchor:"start"}),
    ...tag(-5130,-3100,Y0,55,"#26a69a","#e6f7f4",fmt(681))
  ]
});
document.getElementById("main").append(main);

const rsiRows=rsiWeek.map((w,i)=>({date:wk(w),v:rsiValue[i]}));
const smaRows=smaWeek.map((w,i)=>({date:wk(w),v:smaValue[i]}));
const gradient=()=>{
  const d=d3.create("svg:defs");
  const g=d.append("linearGradient").attr("id","obGrad").attr("x1",0).attr("x2",0).attr("y1",0).attr("y2",1);
  g.append("stop").attr("offset","0").attr("stop-color","#2f9e50").attr("stop-opacity",.9);
  g.append("stop").attr("offset","1").attr("stop-color","#2f9e50").attr("stop-opacity",0);
  return d.node();
};
const comma=v=>v.toFixed(2).replace(".",",");
const rsi=Plot.plot({
  width:2529,height:322,marginLeft:0,marginRight:98,marginTop:0,marginBottom:39,style:baseStyle,
  x:{type:"utc",domain:xDomain,axis:null},
  y:{domain:[17.82,103.32],axis:null},
  marks:[
    gradient,
    Plot.ruleX(halfYears,{stroke:GRID,strokeWidth:1.2}),
    Plot.rect([0],{x1:xDomain[0],x2:xDomain[1],y1:30,y2:70,fill:"#7e57c2",fillOpacity:.1}),
    Plot.ruleY(rsiTicks,{stroke:"#e9e9e9",strokeWidth:1.4}),
    Plot.ruleY([70,30],{stroke:"#6f7280",strokeWidth:1.8,strokeDasharray:"7 8"}),
    Plot.ruleY([50],{stroke:"#9a9ca6",strokeWidth:1.4,strokeDasharray:"7 8"}),
    Plot.areaY(rsiRows,{x:"date",y1:70,y2:d=>Math.max(d.v,70),fill:"url(#obGrad)"}),
    Plot.line(smaRows,{x:"date",y:"v",curve:"catmull-rom",stroke:"#f6dc85",strokeWidth:2.4}),
    Plot.line(rsiRows,{x:"date",y:"v",stroke:"#7e57c2",strokeWidth:1.4}),
    Plot.axisY(rsiTicks,{anchor:"right",tickSize:0,tickPadding:14,tickFormat:comma,label:null}),
    ...tag(53.19,53.19+3.95,53.19-3.95,72,"#fdd835","#3a2a00",comma(53.19)),
    ...tag(40.89,40.89+3.95,40.89-3.95,72,"#7e57c2","#efeaf8",comma(40.89)),
    Plot.axisX(yearLabels.map(y=>new Date(Date.UTC(y,0,1))),{anchor:"bottom",tickSize:0,tickPadding:14,tickFormat:d=>String(d.getUTCFullYear()),fontWeight:600,label:null}),
    Plot.axisX(julyLabels.map(y=>new Date(Date.UTC(y,6,1))),{anchor:"bottom",tickSize:0,tickPadding:14,tickFormat:()=>"Июл",label:null})
  ]
});
document.getElementById("rsi").append(rsi);
</script>
</body></html>
